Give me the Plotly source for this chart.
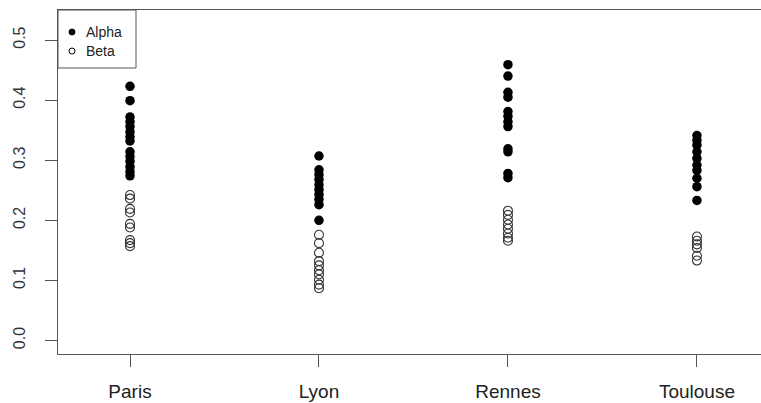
import plotly.graph_objects as go

# Cities along the x axis
cities = ["Paris", "Lyon", "Rennes", "Toulouse"]

# Alpha series (filled dots), one list per city
alpha_paris = [0.423, 0.399, 0.372, 0.364, 0.356, 0.347, 0.339, 0.332, 0.314, 0.306, 0.298, 0.289, 0.281, 0.274]
alpha_lyon = [0.307, 0.284, 0.276, 0.268, 0.259, 0.251, 0.243, 0.235, 0.226, 0.200]
alpha_rennes = [0.459, 0.440, 0.413, 0.405, 0.381, 0.373, 0.364, 0.356, 0.319, 0.314, 0.278, 0.271]
alpha_toulouse = [0.341, 0.333, 0.325, 0.314, 0.303, 0.292, 0.283, 0.270, 0.256, 0.233]

# Beta series (open circles), one list per city
beta_paris = [0.242, 0.236, 0.219, 0.213, 0.194, 0.188, 0.167, 0.162, 0.157]
beta_lyon = [0.176, 0.162, 0.146, 0.132, 0.125, 0.117, 0.110, 0.101, 0.093, 0.087]
beta_rennes = [0.216, 0.209, 0.201, 0.193, 0.186, 0.178, 0.171, 0.166]
beta_toulouse = [0.173, 0.166, 0.160, 0.154, 0.141, 0.133]

# Y axis ticks
y_ticks = [0.0, 0.1, 0.2, 0.3, 0.4, 0.5]
y_tick_text = ["0.0", "0.1", "0.2", "0.3", "0.4", "0.5"]

alpha = [alpha_paris, alpha_lyon, alpha_rennes, alpha_toulouse]
beta = [beta_paris, beta_lyon, beta_rennes, beta_toulouse]

FONT = "Liberation Sans, Arial, sans-serif"
AXIS = "#555555"

fig = go.Figure()

ax, ay = [], []
bx, by = [], []
for city, a_vals, b_vals in zip(cities, alpha, beta):
    ax += [city] * len(a_vals)
    ay += a_vals
    bx += [city] * len(b_vals)
    by += b_vals

fig.add_trace(go.Scatter(
    x=ax, y=ay, mode="markers", name="Alpha", showlegend=False,
    marker=dict(symbol="circle", size=9.5, color="black", line=dict(width=0)),
))
fig.add_trace(go.Scatter(
    x=bx, y=by, mode="markers", name="Beta", showlegend=False,
    marker=dict(symbol="circle-open", size=9, color="#333333", line=dict(width=1.1)),
))

# Boxed legend in the top-left corner of the plot area
W, H = 703, 344
lx1 = (136 - 58) / W
ly0 = (354 - 68) / H
fig.add_shape(type="rect", xref="paper", yref="paper", x0=0, x1=lx1, y0=ly0, y1=1,
              line=dict(color=AXIS, width=1), fillcolor="white", layer="above")
sym_x = (72 - 58) / W
txt_x = (84 - 58) / W
rows = [("Alpha", (354 - 32) / H, "black"), ("Beta", (354 - 51) / H, "white")]
for label, yy, fill in rows:
    fig.add_shape(type="circle", xref="paper", yref="paper", xsizemode="pixel", ysizemode="pixel",
                  xanchor=sym_x, yanchor=yy, x0=-3, x1=3, y0=-3, y1=3,
                  line=dict(color="black", width=1), fillcolor=fill, layer="above")
    fig.add_annotation(xref="paper", yref="paper", x=txt_x, y=yy, text=label, showarrow=False,
                       xanchor="left", yanchor="middle", font=dict(family=FONT, size=14, color="#222222"))

fig.update_layout(
    width=761, height=403,
    margin=dict(l=58, r=0, t=10, b=49),
    plot_bgcolor="white", paper_bgcolor="white",
    font=dict(family=FONT, color="#222222"),
    showlegend=False,
)
fig.update_xaxes(
    type="category", categoryorder="array", categoryarray=cities,
    range=[-0.381, 3.339],
    showgrid=False, zeroline=False,
    showline=True, mirror=True, linecolor=AXIS, linewidth=1,
    ticks="outside", ticklen=12, tickcolor=AXIS, tickwidth=1,
    tickfont=dict(size=19, color="#222222"), ticklabelstandoff=8,
)
fig.update_yaxes(
    range=[-0.0225, 0.55],
    tickvals=y_ticks, ticktext=y_tick_text, tickangle=-90,
    showgrid=False, zeroline=False,
    showline=True, mirror=False, linecolor=AXIS, linewidth=1,
    ticks="outside", ticklen=12, tickcolor=AXIS, tickwidth=1,
    tickfont=dict(size=16, color="#333333"), ticklabelstandoff=14,
)

fig.write_html("out.html")
